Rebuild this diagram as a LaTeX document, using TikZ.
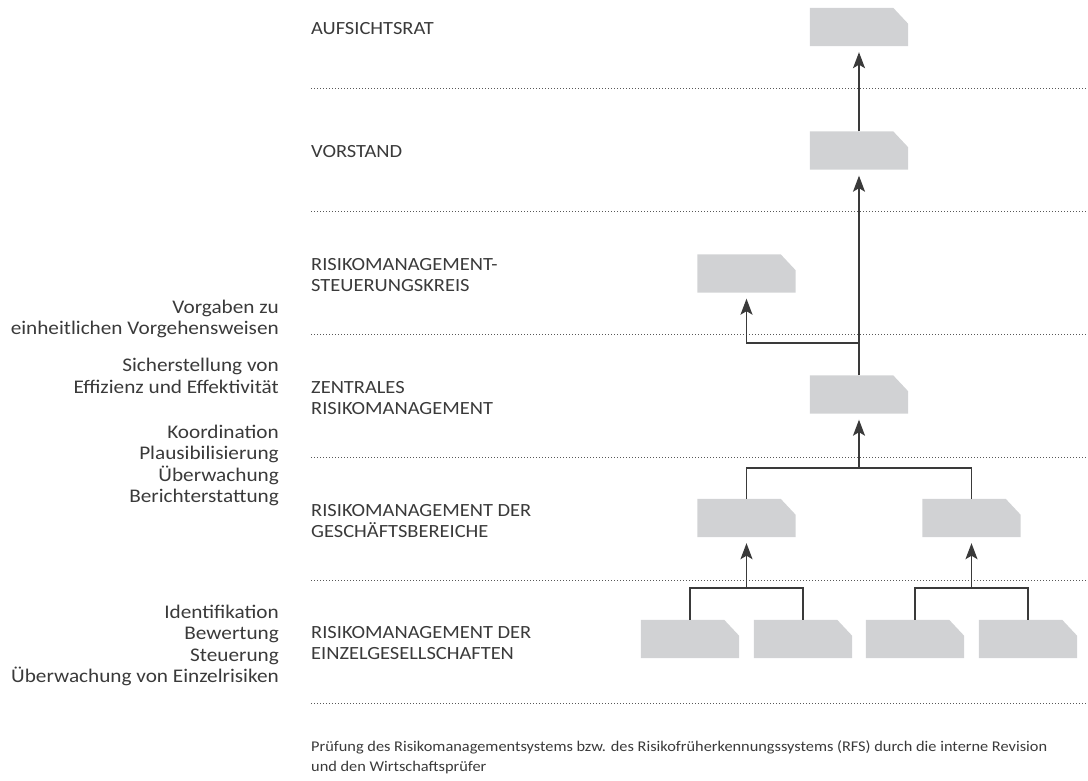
\documentclass[tikz,border=0pt]{standalone}
\usepackage{fontspec}
\setmainfont{Carlito}[FakeStretch=1.1]
\usetikzlibrary{arrows.meta}
\definecolor{boxgray}{HTML}{D1D2D4}
\definecolor{ink}{HTML}{3A3A3A}
\begin{document}
\begin{tikzpicture}[x=1pt,y=-1pt,
  orgbox/.style={rectangle, draw=none, minimum width=98pt, minimum height=38pt, inner sep=0pt},
  level/.style={anchor=base west, align=left, inner sep=0pt, text=ink,
    font=\fontsize{18.6}{21}\selectfont},
  task/.style={anchor=base east, align=right, inner sep=0pt, text=ink,
    font=\fontsize{19.3}{21.5}\selectfont},
  note/.style={anchor=base west, align=left, inner sep=0pt, text=ink,
    font=\fontsize{14.85}{19.5}\selectfont},
  sep/.style={draw=ink!85, line width=0.9pt, dash pattern=on 0.9pt off 2.1pt},
  link/.style={draw=ink, line width=1.3pt},
  uparrow/.style={link, -{Stealth[length=16pt,width=12pt,inset=3.5pt]}, shorten >=6pt},
]
\useasboundingbox (0,0) rectangle (1088,780);

% separators
\foreach \yy in {88,211,334.5,457.5,580.5,703}
  \draw[sep] (311,\yy) -- (1088,\yy);

% level labels (anchor = baseline of last line)
\node[level] (tA) at (311,34) {AUFSICHTSRAT};
\node[level] (tV) at (311,157) {VORSTAND};
\node[level] (tS) at (311,291) {RISIKOMANAGEMENT-\\STEUERUNGSKREIS};
\node[level] (tZ) at (311,414) {ZENTRALES\\RISIKOMANAGEMENT};
\node[level] (tG) at (311,537) {RISIKOMANAGEMENT DER\\GESCHÄFTSBEREICHE};
\node[level] (tE) at (311,659) {RISIKOMANAGEMENT DER\\EINZELGESELLSCHAFTEN};

% task labels
\node[task] (kS) at (279,334.5) {Vorgaben zu\\einheitlichen Vorgehensweisen};
\node[task] (kZ1) at (279,393) {Sicherstellung von\\Effizienz und Effektivität};
\node[task] (kZ2) at (279,502.5) {Koordination\\Plausibilisierung\\Überwachung\\Berichterstattung};
\node[task] (kE) at (279,682.5) {Identifikation\\Bewertung\\Steuerung\\Überwachung von Einzelrisiken};

% note
\node[note] (nt) at (311,771) {Prüfung des Risikomanagementsystems bzw. des Risikofrüherkennungssystems (RFS) durch die interne Revision\\und den Wirtschaftsprüfer};

% boxes
\node[orgbox] (A) at (859,27) {};
\node[orgbox] (V) at (859,150.5) {};
\node[orgbox] (S) at (746.5,273.5) {};
\node[orgbox] (Z) at (859,394.5) {};
\node[orgbox] (G1) at (746.5,518) {};
\node[orgbox] (G2) at (971.5,518) {};
\node[orgbox] (E1) at (690,639) {};
\node[orgbox] (E2) at (803,639) {};
\node[orgbox] (E3) at (915,639) {};
\node[orgbox] (E4) at (1028,639) {};
\foreach \b in {A,V,S,Z,G1,G2,E1,E2,E3,E4}
  \fill[boxgray] (\b.south west) -- (\b.north west) -- ([xshift=-15pt]\b.north east)
    -- ([yshift=-16pt]\b.north east) -- (\b.south east) -- cycle;

% junctions
\coordinate (jS) at (859,343);
\coordinate (jG) at (859,468);
\coordinate (jL) at (746.5,588);
\coordinate (jR) at (971.5,588);

% connectors
\draw[uparrow] (V.north) -- (A.south);
\draw[uparrow] (Z.north) -- (V.south);
\draw[uparrow] (jS) -| (S.south);
\draw[link] (G1.north) |- (jG) -| (G2.north);
\draw[uparrow] (jG) -- (Z.south);
\draw[link] (E1.north) |- (jL) -| (E2.north);
\draw[link] (E3.north) |- (jR) -| (E4.north);
\draw[uparrow] (jL) -- (G1.south);
\draw[uparrow] (jR) -- (G2.south);
\end{tikzpicture}
\end{document}
